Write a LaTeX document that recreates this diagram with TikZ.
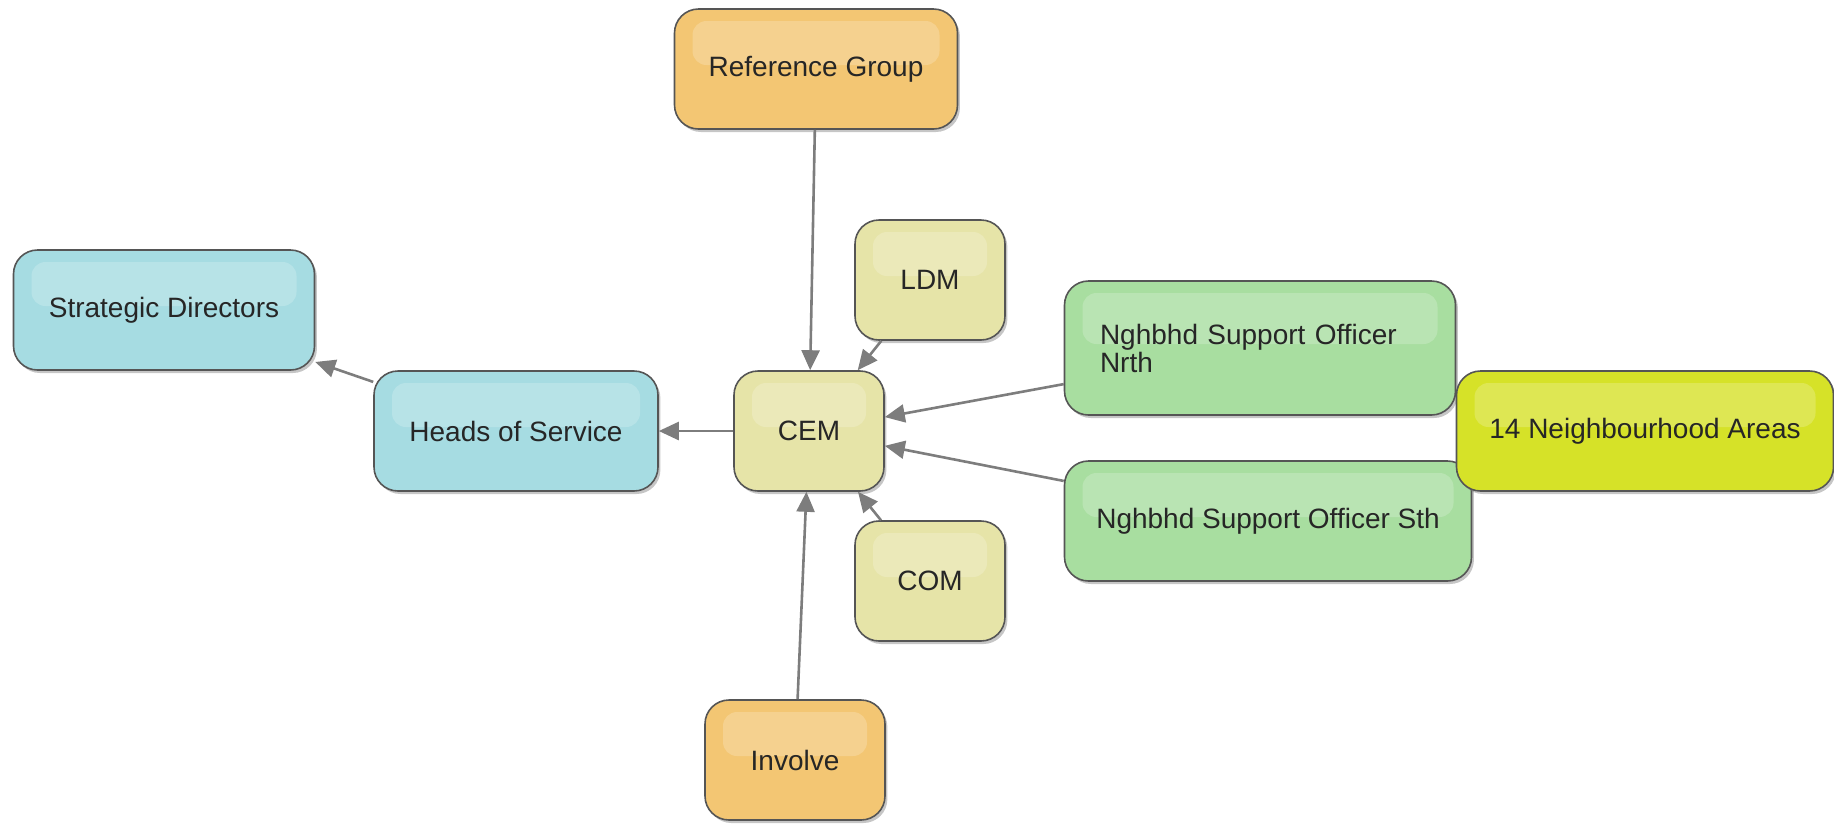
\documentclass[tikz,border=0pt]{standalone}
\usepackage{fontspec}
\setmainfont{Liberation Sans}
\usetikzlibrary{arrows.meta,shadows}

\definecolor{orangebox}{RGB}{243,198,115}
\definecolor{bluebox}{RGB}{166,220,226}
\definecolor{khakibox}{RGB}{230,228,168}
\definecolor{greenbox}{RGB}{168,222,160}
\definecolor{limebox}{RGB}{214,226,40}
\definecolor{boxline}{RGB}{85,85,85}
\definecolor{linkgray}{RGB}{125,125,125}

\begin{document}
\begin{tikzpicture}[>={Triangle[length=10pt,width=9pt]}, x=0.5pt, y=-0.5pt]
\tikzset{
  box/.style={
    draw=boxline, line width=0.8pt, rectangle, rounded corners=12pt,
    minimum height=60pt, align=center, text=black!85,
    font=\fontsize{14}{14}\selectfont,
    drop shadow={shadow xshift=1.2pt, shadow yshift=-1.5pt, opacity=0.45},
    path picture={
      \fill[white, opacity=0.2, rounded corners=7pt]
        ([shift={(9pt,-6pt)}]path picture bounding box.north west)
        rectangle ([shift={(-9pt,2pt)}]path picture bounding box.east);
    }
  },
  link/.style={->, draw=linkgray, line width=1.3pt}
}
\useasboundingbox (0,0) rectangle (1834,826);

\node[box, fill=orangebox, minimum width=141.5pt] (ref)     at (816,69)   {Reference Group};
\node[box, fill=bluebox,   minimum width=150.5pt] (strat)   at (164,310)  {Strategic Directors};
\node[box, fill=bluebox,   minimum width=142pt]   (heads)   at (516,431)  {Heads of Service};
\node[box, fill=khakibox,  minimum width=75pt]    (cem)     at (809,431)  {CEM};
\node[box, fill=khakibox,  minimum width=75pt]    (ldm)     at (930,280)  {LDM};
\node[box, fill=khakibox,  minimum width=75pt]    (com)     at (930,581)  {COM};
\node[box, fill=orangebox, minimum width=90pt]    (involve) at (795,760)  {Involve};
\node[box, fill=greenbox,  minimum width=195.5pt, minimum height=67pt, text width=160pt, align=left] (north) at (1260,348) {Nghbhd Support Officer\\Nrth};
\node[box, fill=greenbox,  minimum width=203.5pt] (south)   at (1268,521) {Nghbhd Support Officer Sth};
\node[box, fill=limebox,   minimum width=188.5pt] (areas)   at (1645,431) {14 Neighbourhood Areas};

\draw[link] (ref) -- (cem);
\draw[link] (ldm) -- (cem);
\draw[link] (north) -- (cem);
\draw[link] (south) -- (cem);
\draw[link] (com) -- (cem);
\draw[link] (involve) -- (cem);
\draw[link] (cem) -- (heads);
\draw[link] (heads) -- (strat);
\end{tikzpicture}
\end{document}
